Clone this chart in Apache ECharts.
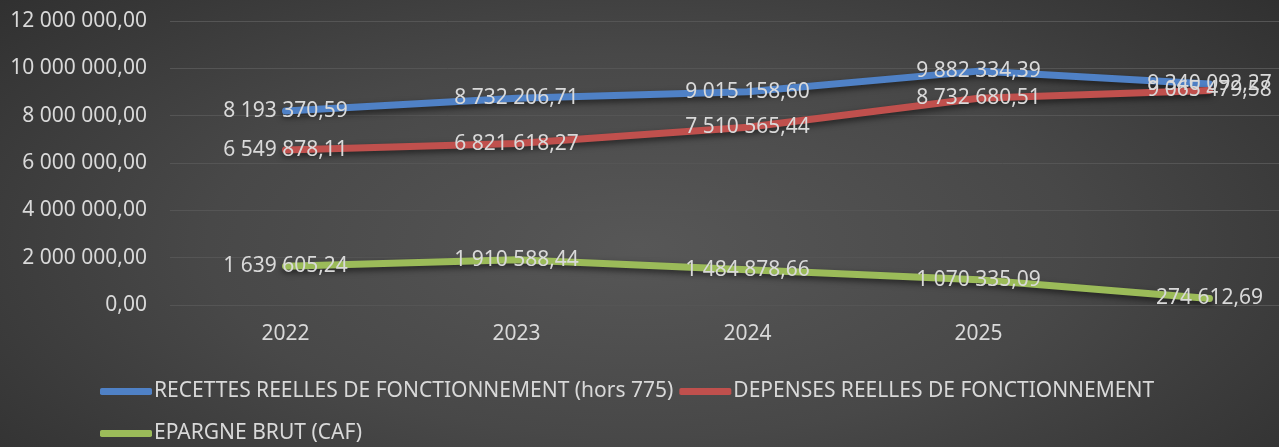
<!DOCTYPE html>
<html>
<head>
<meta charset="utf-8">
<script src="https://cdn.jsdelivr.net/npm/echarts@6/dist/echarts.min.js"></script>
<style>
html,body{margin:0;padding:0;}
#c{width:1279px;height:447px;background:radial-gradient(ellipse 75% 95% at 50% 55%, #575757 0%, #484848 45%, #2a2a2a 100%);}
</style>
</head>
<body>
<div id="c"></div>
<script>
const categories = ['2022', '2023', '2024', '2025', ''];
const recettes = [8193370.59, 8732206.71, 9015158.60, 9882334.39, 9340092.27];
const depenses = [6549878.11, 6821618.27, 7510565.44, 8732680.51, 9065479.58];
const epargne = [1639605.24, 1910588.44, 1484878.66, 1070335.09, 274612.69];
const seriesNames = ['RECETTES REELLES DE FONCTIONNEMENT (hors 775)', 'DEPENSES REELLES DE FONCTIONNEMENT', 'EPARGNE BRUT (CAF)'];
const yMin = 0, yMax = 12000000, yInterval = 2000000;

function fmt(v) {
  const s = Number(v).toFixed(2).split('.');
  return s[0].replace(/\B(?=(\d{3})+(?!\d))/g, ' ') + ',' + s[1];
}
const FONT = 'Noto Sans';
const TXT = '#d9d9d9';
const FS = 21;
function mk(name, data, color) {
  return {
    name: name, type: 'line', data: data,
    symbol: 'circle', symbolSize: 0.1, showSymbol: true,
    itemStyle: { color: color },
    lineStyle: { width: 7, color: color, cap: 'round', shadowColor: 'rgba(0,0,0,0.55)', shadowBlur: 6, shadowOffsetY: 3 },
    label: { show: true, position: 'inside', formatter: p => fmt(p.value), color: TXT, fontFamily: FONT, fontSize: FS, padding: [4, 0, 0, 0] },
    emphasis: { disabled: true },
    animation: false
  };
}
const chart = echarts.init(document.getElementById('c'));
chart.setOption({
  backgroundColor: 'transparent',
  textStyle: { fontFamily: FONT },
  grid: { left: 170, width: 1155, top: 21, bottom: 142, containLabel: false, outerBoundsMode: 'none' },
  legend: [
    { data: [seriesNames[0], seriesNames[1]], left: 100, top: 381, padding: 0, itemWidth: 52, itemHeight: 7, itemGap: 6, icon: 'roundRect',
      textStyle: { color: TXT, fontSize: FS, fontFamily: FONT, padding: [0,0,0,-3] } },
    { data: [seriesNames[2]], left: 100, top: 423, padding: 0, itemWidth: 52, itemHeight: 7, itemGap: 6, icon: 'roundRect',
      textStyle: { color: TXT, fontSize: FS, fontFamily: FONT, padding: [0,0,0,-3] } }
  ],
  xAxis: {
    type: 'category', data: categories, boundaryGap: true,
    axisLine: { show: false }, axisTick: { show: false },
    axisLabel: { color: TXT, fontSize: FS, fontFamily: FONT, margin: 19 }
  },
  yAxis: {
    type: 'value', min: yMin, max: yMax, interval: yInterval,
    axisLine: { show: false }, axisTick: { show: false },
    splitLine: { lineStyle: { color: '#555555', width: 1 } },
    axisLabel: { color: TXT, fontSize: FS, fontFamily: FONT, margin: 23, padding: [3, 0, 0, 0], formatter: v => fmt(v) }
  },
  series: [
    mk(seriesNames[0], recettes, '#4f81c6'),
    mk(seriesNames[1], depenses, '#c0504d'),
    mk(seriesNames[2], epargne, '#9bbb59')
  ]
});
</script>
</body>
</html>
